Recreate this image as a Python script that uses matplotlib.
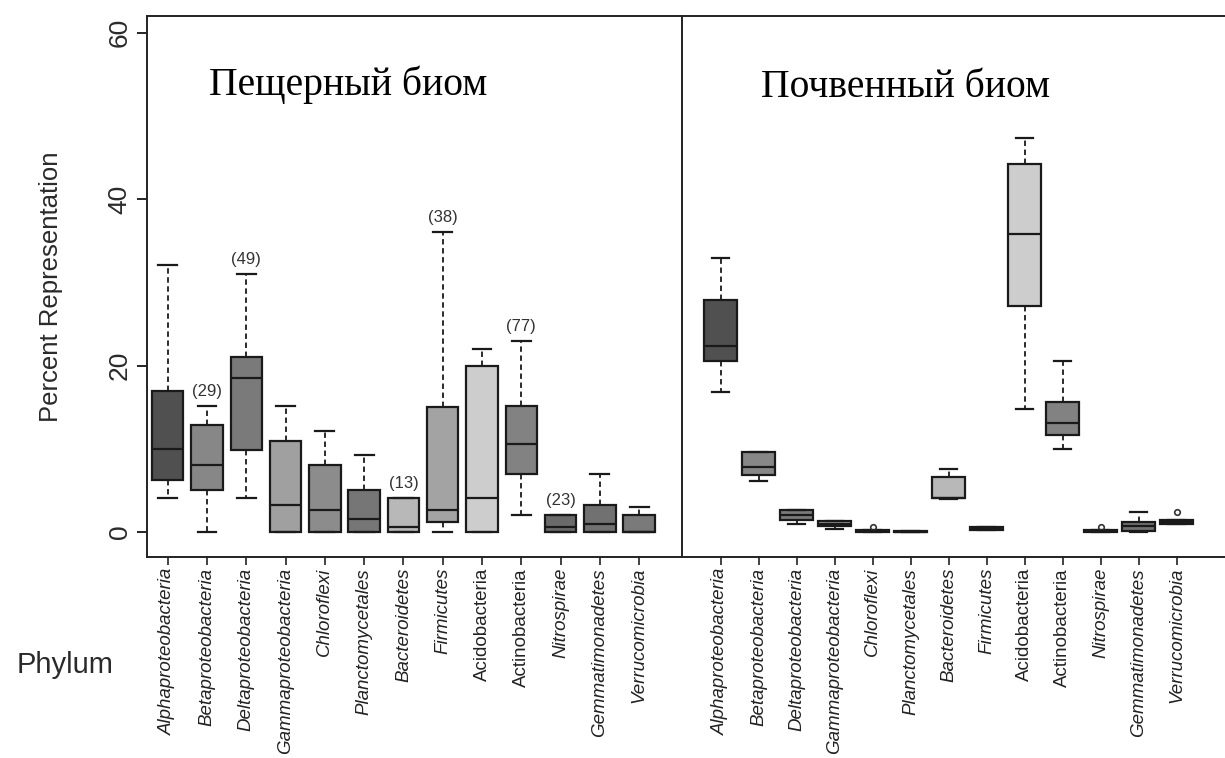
import matplotlib
matplotlib.use("Agg")
import matplotlib.pyplot as plt

# phyla, in plotting order
phyla = ["Alphaproteobacteria", "Betaproteobacteria", "Deltaproteobacteria",
         "Gammaproteobacteria", "Chloroflexi", "Planctomycetales", "Bacteroidetes",
         "Firmicutes", "Acidobacteria", "Actinobacteria", "Nitrospirae",
         "Gemmatimonadetes", "Verrucomicrobia"]
upright = ["Acidobacteria", "Actinobacteria"]
box_colors = ["#505050", "#878787", "#7a7a7a", "#a0a0a0", "#8c8c8c", "#767676",
              "#b8b8b8", "#a3a3a3", "#cdcdcd", "#828282", "#6a6a6a", "#717171",
              "#7a7a7a"]

# cave biome
cave_lo = [4.1, 0.0, 4.1, 0.0, 0.0, 0.0, 0.0, 0.0, 0.0, 2.0, 0.0, 0.0, 0.0]
cave_q1 = [6.2, 5.1, 9.9, 0.0, 0.0, 0.0, 0.0, 1.2, 0.0, 7.0, 0.0, 0.0, 0.0]
cave_med = [10.0, 8.0, 18.5, 3.2, 2.6, 1.6, 0.6, 2.6, 4.1, 10.6, 0.6, 1.0, 0.0]
cave_q3 = [17.0, 12.9, 21.0, 10.9, 8.0, 5.1, 4.1, 15.0, 19.9, 15.2, 2.0, 3.2, 2.0]
cave_hi = [32.1, 15.2, 31.0, 15.2, 12.1, 9.2, 4.1, 36.0, 22.0, 23.0, 2.0, 7.0, 3.0]
cave_notes = {1: "(29)", 2: "(49)", 6: "(13)", 7: "(38)", 9: "(77)", 10: "(23)"}

# soil biome
soil_lo = [16.8, 6.1, 1.0, 0.4, 0.0, 0.0, 4.0, 0.2, 14.8, 10.0, 0.0, 0.05, 0.95]
soil_q1 = [20.6, 6.8, 1.5, 0.75, 0.0, 0.0, 4.1, 0.2, 27.2, 11.7, 0.0, 0.15, 0.95]
soil_med = [22.4, 7.8, 2.0, 1.0, 0.1, 0.05, 4.1, 0.4, 35.8, 13.1, 0.1, 0.75, 1.2]
soil_q3 = [27.9, 9.6, 2.6, 1.3, 0.3, 0.15, 6.6, 0.6, 44.2, 15.6, 0.3, 1.2, 1.4]
soil_hi = [32.9, 9.6, 2.6, 1.3, 0.3, 0.15, 7.6, 0.6, 47.3, 20.6, 0.3, 2.4, 1.4]
soil_fliers = {4: [0.6], 10: [0.6], 12: [2.4]}

W, H = 1225, 758
fig = plt.figure(figsize=(W / 100, H / 100), dpi=100)
plt.rcParams["font.family"] = ["Liberation Sans", "DejaVu Sans"]

bottom, top = 1 - 557 / H, 1 - 16 / H
ax1 = fig.add_axes([147 / W, bottom, (682 - 147) / W, top - bottom])
ax2 = fig.add_axes([682 / W, bottom, 1 - 682 / W, top - bottom], sharey=ax1)


def make_stats(lo, q1, med, q3, hi, fliers):
    stats = []
    for i in range(len(phyla)):
        stats.append(dict(whislo=lo[i], q1=q1[i], med=med[i], q3=q3[i],
                          whishi=hi[i], fliers=fliers.get(i, [])))
    return stats


def draw_panel(ax, stats, width, capw):
    pos = list(range(1, len(phyla) + 1))
    bp = ax.bxp(stats, positions=pos, widths=width, capwidths=capw,
                patch_artist=True, manage_ticks=False,
                boxprops=dict(edgecolor="#1a1a1a", linewidth=1.6),
                medianprops=dict(color="#1a1a1a", linewidth=1.6),
                whiskerprops=dict(color="#1a1a1a", linewidth=1.3, linestyle=(0, (3, 2))),
                capprops=dict(color="#1a1a1a", linewidth=1.6),
                flierprops=dict(marker="o", markersize=4, markerfacecolor="none",
                                markeredgecolor="#333333", markeredgewidth=1.2))
    for patch, c in zip(bp["boxes"], box_colors):
        patch.set_facecolor(c)
    ax.set_xticks(pos)
    ax.set_xticklabels(phyla, rotation=90, fontsize=13.5, color="#2a2a2a")
    for lab in ax.get_xticklabels():
        if lab.get_text() not in upright:
            lab.set_style("italic")
    ax.tick_params(axis="x", length=6, width=1.2, pad=2, colors="#222222")
    for s in ax.spines.values():
        s.set_linewidth(1.4)
        s.set_color("#222222")


draw_panel(ax1, make_stats(cave_lo, cave_q1, cave_med, cave_q3, cave_hi, {}), 0.8, 0.48)
draw_panel(ax2, make_stats(soil_lo, soil_q1, soil_med, soil_q3, soil_hi, soil_fliers), 0.87, 0.45)

for i, txt in cave_notes.items():
    ax1.annotate(txt, (i + 1, cave_hi[i]), xytext=(0, 5), textcoords="offset points",
                 ha="center", va="bottom", fontsize=12, color="#333333")

ax1.set_xlim(0.473, 14.09)
ax2.set_xlim(-0.02, 14.27)
ax1.set_ylim(-3, 62)
ax1.set_yticks([0, 20, 40, 60])
ax1.set_yticklabels(["0", "20", "40", "60"], rotation=90, va="center", fontsize=19,
                    color="#2a2a2a")
ax1.tick_params(axis="y", length=7, width=1.2, pad=4)
ax1.set_ylabel("Percent Representation", fontsize=18.5, labelpad=32, color="#2a2a2a")
ax1.spines["right"].set_visible(False)
ax2.spines["right"].set_visible(False)
ax2.tick_params(axis="y", left=False, labelleft=False)

ax1.text(0.376, 0.872, "Пещерный биом", transform=ax1.transAxes, ha="center",
         va="center", fontsize=28.5, family="Liberation Serif")
ax2.text(0.412, 0.867, "Почвенный биом", transform=ax2.transAxes, ha="center",
         va="center", fontsize=28.5, family="Liberation Serif")

fig.text(17 / W, 1 - 665 / H, "Phylum", ha="left", va="center", fontsize=21,
         color="#2a2a2a")

fig.savefig("out.png", dpi=100)
